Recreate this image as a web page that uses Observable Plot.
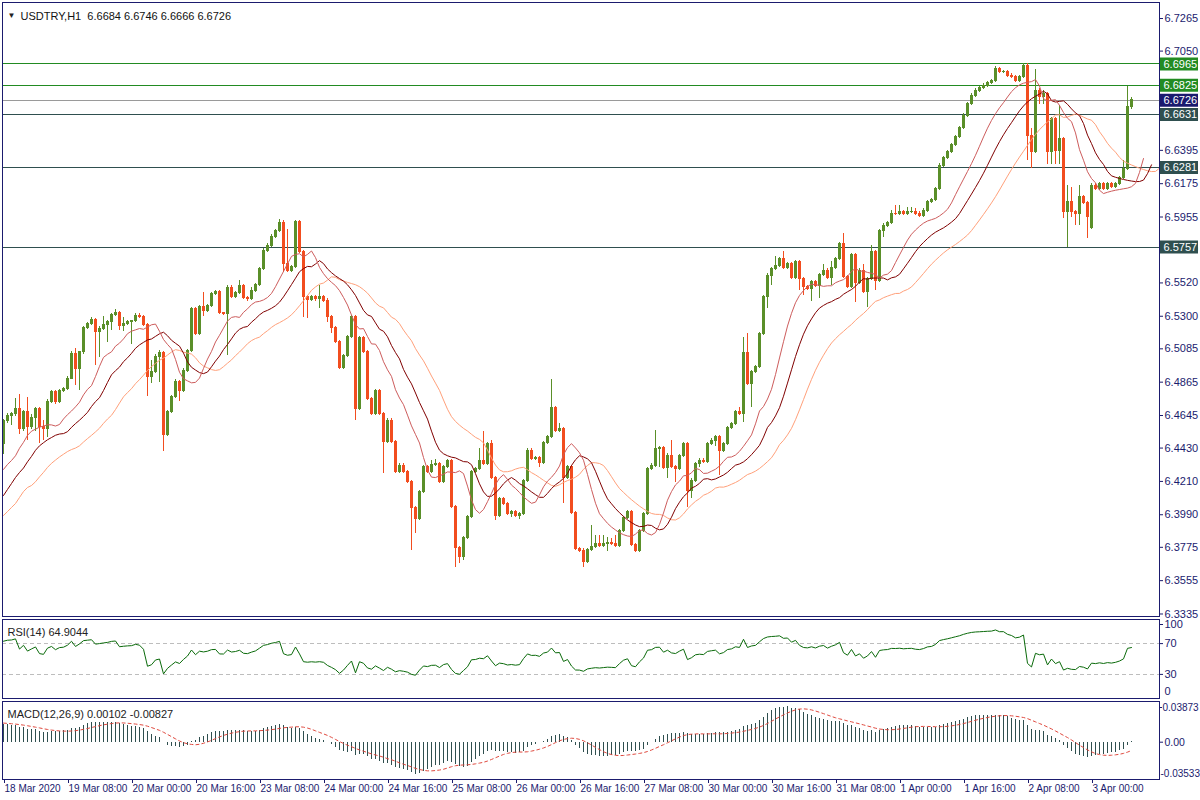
<!DOCTYPE html>
<html><head><meta charset="utf-8">
<script src="https://cdn.jsdelivr.net/npm/d3@7"></script>
<script src="https://cdn.jsdelivr.net/npm/@observablehq/plot@0.6"></script>
<style>
body{margin:0;background:#fff;}
#chart svg{display:block;}
</style>
</head><body><div id="chart"></div>
<script>
// ---------------- DATA (USDTRY, H1) ----------------
const symbolTitle = "USDTRY,H1\u00a0\u00a06.6684 6.6746 6.6666 6.6726";
const rsiTitle = "RSI(14) 64.9044";
const macdTitle = "MACD(12,26,9) 0.00102 -0.00827";

const firstOpen = 6.4458;
const gapOpens = {272: 6.5881};
const closes = [
6.4607,6.4643,6.4652,6.4691,6.4555,6.4665,6.4568,6.4630,6.4691,6.4568,
6.4553,6.4737,6.4797,6.4735,6.4805,6.4819,6.4889,6.5052,6.4955,6.5061,
6.5224,6.5250,6.5274,6.5193,6.5217,6.5244,6.5265,6.5307,6.5323,6.5234,
6.5250,6.5261,6.5267,6.5305,6.5294,6.5241,6.4898,6.4929,6.5034,6.5056,
6.4515,6.4665,6.4766,6.4867,6.4805,6.4942,6.5069,6.5347,6.5180,6.5360,
6.5333,6.5369,6.5448,6.5459,6.5320,6.5318,6.5488,6.5430,6.5452,6.5503,
6.5422,6.5413,6.5465,6.5508,6.5609,6.5729,6.5765,6.5826,6.5861,6.5914,
6.5642,6.5600,6.5622,6.5921,6.5723,6.5430,6.5409,6.5424,6.5411,6.5424,
6.5404,6.5294,6.5221,6.5129,6.4957,6.5036,6.5162,6.5294,6.4689,6.5155,
6.5063,6.4751,6.4658,6.4807,6.4652,6.4469,6.4612,6.4473,6.4269,6.4315,
6.4271,6.4205,6.4033,6.3959,6.4143,6.4308,6.4271,6.4320,6.4324,6.4205,
6.4308,6.4343,6.4040,6.3769,6.3710,6.3835,6.3972,6.4275,6.4289,6.4348,
6.4326,6.4458,6.4231,6.3980,6.4091,6.4062,6.3994,6.4011,6.3980,6.3998,
6.4211,6.4414,6.4359,6.4366,6.4330,6.4462,6.4502,6.4693,6.4546,6.4559,
6.4234,6.4308,6.4000,6.3761,6.3754,6.3681,6.3759,6.3780,6.3798,6.3782,
6.3794,6.3805,6.3798,6.3787,6.3881,6.3967,6.4005,6.3792,6.3754,6.3881,
6.3992,6.4289,6.4315,6.4421,6.4429,6.4300,6.4381,6.4308,6.4291,6.4379,
6.4454,6.4150,6.4216,6.4326,6.4348,6.4337,6.4454,6.4480,6.4502,6.4414,
6.4454,6.4561,6.4586,6.4665,6.4652,6.5059,6.4854,6.4935,6.4968,6.5180,
6.5426,6.5569,6.5613,6.5635,6.5675,6.5620,6.5642,6.5551,6.5661,6.5545,
6.5492,6.5483,6.5529,6.5503,6.5574,6.5602,6.5551,6.5620,6.5675,6.5778,
6.5558,6.5492,6.5706,6.5518,6.5602,6.5459,6.5543,6.5727,6.5531,6.5861,
6.5899,6.5914,6.5976,6.5972,6.5987,6.5972,6.5985,6.5991,6.5972,6.5965,
6.5998,6.6053,6.6069,6.6137,6.6295,6.6343,6.6383,6.6432,6.6486,6.6541,
6.6625,6.6698,6.6757,6.6790,6.6805,6.6823,6.6841,6.6851,6.6929,6.6911,
6.6915,6.6889,6.6878,6.6856,6.6878,6.6955,6.6493,6.6383,6.6790,6.6746,
6.6770,6.6383,6.6603,6.6394,6.6471,6.5987,6.6057,6.5991,6.5976,6.6086,
6.6049,6.5954,6.6163,6.6141,6.6170,6.6141,6.6170,6.6152,6.6174,6.6211,
6.6273,6.6684,6.6726];
const highs = [
6.4620,6.4660,6.4668,6.4755,6.4784,6.4678,6.4762,6.4650,6.4700,6.4700,
6.4612,6.4750,6.4810,6.4810,6.4815,6.4830,6.4900,6.5070,6.5085,6.5070,
6.5235,6.5262,6.5290,6.5285,6.5230,6.5300,6.5275,6.5318,6.5347,6.5330,
6.5290,6.5270,6.5275,6.5318,6.5320,6.5305,6.5250,6.5008,6.5045,6.5075,
6.5065,6.4675,6.4778,6.4880,6.4878,6.4955,6.5080,6.5360,6.5358,6.5372,
6.5459,6.5380,6.5460,6.5470,6.5468,6.5328,6.5500,6.5500,6.5462,6.5536,
6.5512,6.5430,6.5490,6.5518,6.5620,6.5745,6.5778,6.5838,6.5872,6.5939,
6.5930,6.5871,6.5632,6.5932,6.5930,6.5733,6.5440,6.5435,6.5434,6.5503,
6.5435,6.5414,6.5304,6.5231,6.5139,6.5046,6.5172,6.5304,6.5304,6.5165,
6.5165,6.5073,6.4761,6.4817,6.4817,6.4662,6.4622,6.4622,6.4483,6.4325,
6.4325,6.4281,6.4215,6.4043,6.4153,6.4318,6.4318,6.4345,6.4355,6.4334,
6.4318,6.4353,6.4353,6.4050,6.3779,6.3845,6.3982,6.4285,6.4299,6.4425,
6.4539,6.4468,6.4480,6.4241,6.4101,6.4101,6.4072,6.4021,6.4021,6.4008,
6.4221,6.4424,6.4424,6.4376,6.4376,6.4472,6.4512,6.4883,6.4703,6.4590,
6.4569,6.4318,6.4318,6.4010,6.3771,6.3764,6.3769,6.3919,6.3850,6.3850,
6.3850,6.3840,6.3835,6.3850,6.3891,6.3977,6.4015,6.4015,6.3802,6.3891,
6.4002,6.4299,6.4325,6.4546,6.4439,6.4439,6.4391,6.4480,6.4318,6.4389,
6.4464,6.4464,6.4226,6.4336,6.4358,6.4358,6.4464,6.4490,6.4512,6.4511,
6.4464,6.4571,6.4596,6.4675,6.4700,6.5162,6.5184,6.4945,6.4978,6.5190,
6.5436,6.5579,6.5623,6.5694,6.5685,6.5727,6.5652,6.5652,6.5671,6.5671,
6.5555,6.5502,6.5539,6.5539,6.5584,6.5640,6.5612,6.5660,6.5685,6.5788,
6.5848,6.5568,6.5716,6.5716,6.5612,6.5640,6.5553,6.5767,6.5737,6.5871,
6.5909,6.5924,6.6000,6.6031,6.6031,6.6000,6.6020,6.6020,6.6010,6.5990,
6.6008,6.6063,6.6079,6.6147,6.6305,6.6353,6.6393,6.6442,6.6496,6.6551,
6.6635,6.6708,6.6767,6.6800,6.6815,6.6833,6.6851,6.6861,6.6950,6.6945,
6.6925,6.6925,6.6899,6.6888,6.6888,6.6965,6.6965,6.6541,6.6929,6.6800,
6.6790,6.6780,6.6613,6.6613,6.6690,6.6481,6.6160,6.6150,6.6001,6.6160,
6.6096,6.6059,6.6173,6.6173,6.6180,6.6180,6.6180,6.6180,6.6184,6.6221,
6.6330,6.6816,6.6746];
const lows = [
6.4388,6.4595,6.4580,6.4640,6.4520,6.4540,6.4480,6.4555,6.4540,6.4458,
6.4480,6.4502,6.4725,6.4720,6.4725,6.4795,6.4810,6.4880,6.4843,6.4810,
6.5050,6.5215,6.5240,6.4977,6.5030,6.5205,6.5129,6.5206,6.5298,6.5206,
6.5200,6.5240,6.5114,6.5258,6.5285,6.5230,6.4770,6.4854,6.4920,6.4865,
6.4409,6.4505,6.4655,6.4755,6.4740,6.4795,6.4930,6.5060,6.5170,6.5170,
6.5300,6.5322,6.5360,6.5440,6.5310,6.5308,6.5043,6.5420,6.5420,6.5442,
6.5412,6.5400,6.5405,6.5455,6.5498,6.5600,6.5720,6.5755,6.5815,6.5850,
6.5589,6.5590,6.5590,6.5612,6.5712,6.5292,6.5287,6.5398,6.5400,6.5349,
6.5394,6.5261,6.5184,6.5118,6.4946,6.4946,6.5026,6.5152,6.4612,6.4679,
6.5053,6.4741,6.4648,6.4648,6.4642,6.4264,6.4459,6.4463,6.4259,6.4259,
6.4261,6.4195,6.3754,6.3866,6.3949,6.4133,6.4261,6.4261,6.4310,6.4195,
6.4195,6.4298,6.4030,6.3644,6.3668,6.3690,6.3825,6.3962,6.4265,6.4279,
6.4316,6.4316,6.4221,6.3952,6.3970,6.4052,6.3984,6.3970,6.3970,6.3960,
6.3988,6.4201,6.4349,6.4349,6.4300,6.4320,6.4452,6.4492,6.4536,6.4536,
6.4066,6.4224,6.3990,6.3751,6.3744,6.3644,6.3671,6.3749,6.3770,6.3772,
6.3772,6.3750,6.3788,6.3777,6.3777,6.3871,6.3957,6.3782,6.3744,6.3744,
6.3871,6.3982,6.4279,6.4305,6.4300,6.4290,6.4230,6.4298,6.4200,6.4281,
6.4369,6.4040,6.4100,6.4206,6.4300,6.4327,6.4327,6.4444,6.4440,6.4249,
6.4404,6.4444,6.4551,6.4576,6.4642,6.4601,6.4844,6.4700,6.4925,6.4958,
6.5170,6.5350,6.5500,6.5603,6.5625,6.5610,6.5610,6.5541,6.5541,6.5470,
6.5437,6.5473,6.5400,6.5493,6.5420,6.5564,6.5541,6.5500,6.5610,6.5665,
6.5548,6.5482,6.5482,6.5393,6.5508,6.5449,6.5360,6.5533,6.5470,6.5521,
6.5820,6.5889,6.5904,6.5962,6.5962,6.5962,6.5962,6.5975,6.5962,6.5955,
6.5955,6.5988,6.6043,6.6059,6.6127,6.6285,6.6333,6.6373,6.6422,6.6476,
6.6531,6.6615,6.6688,6.6747,6.6780,6.6795,6.6813,6.6831,6.6841,6.6901,
6.6901,6.6879,6.6868,6.6846,6.6846,6.6868,6.6328,6.6273,6.6373,6.6700,
6.6700,6.6300,6.6300,6.6300,6.6300,6.5943,6.5756,6.5950,6.5900,6.5900,
6.6039,6.5813,6.5871,6.6131,6.6131,6.6131,6.6131,6.6142,6.6142,6.6164,
6.6201,6.6263,6.6666];

// time axis labels (one every 16 hourly bars)
const xLabels = ["18 Mar 2020","19 Mar 08:00","20 Mar 00:00","20 Mar 16:00","23 Mar 08:00",
  "24 Mar 00:00","24 Mar 16:00","25 Mar 08:00","26 Mar 00:00","26 Mar 16:00","27 Mar 08:00",
  "30 Mar 00:00","30 Mar 16:00","31 Mar 08:00","1 Apr 00:00","1 Apr 16:00","2 Apr 08:00","3 Apr 00:00"];
const priceTicks = [6.7265,6.7050,6.6825,6.6610,6.6395,6.6175,6.5955,6.5740,6.5520,6.5300,
  6.5085,6.4865,6.4645,6.4430,6.4210,6.3990,6.3775,6.3555,6.3335];
// horizontal levels drawn on the chart
const levelPrices = [6.6965, 6.6825, 6.6726, 6.6631, 6.6281, 6.5757];
const levelKinds  = ["green","green","bid","slate","slate","slate"];

// Alligator lines: values already on screen at the left edge (earlier history)
const lipsPre  = [6.4289, 6.4322, 6.4348];
const teethPre = [6.4117, 6.4157, 6.4196, 6.4236, 6.4269];
const jawPre   = [6.3985, 6.4011, 6.4038, 6.4064, 6.4104, 6.4143, 6.4170, 6.4183];
// oscillator state before the first visible bar (estimated)
const rsiSeedGain = 0.0032, rsiSeedLoss = 0.0016;
const ema12Seed = 6.4530, ema26Seed = 6.4345;
const macdPre = [0.0200,0.0198,0.0196,0.0194,0.0192,0.0190,0.0188,0.0186];
const rsiTicks = [70, 30];
const macdTicks = [0.03873, 0, -0.03533];

// ---------------- BUILD ----------------
const navy = "#1b1b6e";
const bull = "#5a8f29", bear = "#f24d1f";
const kindColor = {green: "#228b22", bid: "#1a1a6e", slate: "#2f4f4f"};
const lineColor = {green: "#228b22", bid: "#9a9a9a", slate: "#2f4f4f"};
const font = "Liberation Sans, Arial, sans-serif";
const crisp = "crispEdges";

const bars = closes.map((c, i) => ({
  i, c, h: highs[i], l: lows[i],
  o: gapOpens[i] !== undefined ? gapOpens[i] : (i === 0 ? firstOpen : closes[i - 1])
}));
bars.forEach(b => b.col = b.c >= b.o ? bull : bear);

function alligator(period, shift, pre) {
  let s = pre[pre.length - 1];
  const out = pre.map((v, j) => ({i: j, v}));
  bars.forEach((b, k) => {
    const m = (b.h + b.l) / 2;
    s = (s * (period - 1) + m) / period;
    out.push({i: k + shift, v: s});
  });
  return out;
}
const lips = alligator(5, 3, lipsPre);
const teeth = alligator(8, 5, teethPre);
const jaw = alligator(13, 8, jawPre);

let ag = rsiSeedGain, al = rsiSeedLoss, prevC = firstOpen;
const rsi = bars.map(b => {
  const d = b.c - prevC; prevC = b.c;
  ag = (ag * 13 + Math.max(d, 0)) / 14;
  al = (al * 13 + Math.max(-d, 0)) / 14;
  return {i: b.i, v: 100 - 100 / (1 + ag / al)};
});

let e12 = ema12Seed, e26 = ema26Seed;
const macdMain = bars.map(b => {
  e12 += (2 / 13) * (b.c - e12);
  e26 += (2 / 27) * (b.c - e26);
  return e12 - e26;
});
const allMacd = macdPre.concat(macdMain);
const macd = bars.map((b, k) => ({i: b.i, m: macdMain[k], s: d3.mean(allMacd.slice(k, k + 9))}));

const levels = levelPrices.map((p, k) => ({p, kind: levelKinds[k]}));

const xDomain = [-0.25, 289];
const common = {width: 1200, marginLeft: 2, marginRight: 41,
  style: {fontFamily: font, fontSize: "11px", color: navy, background: "#fff", overflow: "visible"}};

const mainPlot = Plot.plot({
  ...common, height: 618, marginTop: 2, marginBottom: 2,
  x: {domain: xDomain, axis: null},
  y: {domain: [6.33184, 6.73708], axis: null},
  marks: [
    Plot.ruleY(levels, {y: "p", stroke: d => lineColor[d.kind], strokeWidth: 1, shapeRendering: crisp}),
    Plot.ruleX(bars, {x: "i", y1: "l", y2: "h", stroke: "col", strokeWidth: 1, shapeRendering: crisp}),
    Plot.rect(bars, {x1: d => d.i - 0.25, x2: d => d.i + 0.25, y1: "o", y2: "c", fill: "col", stroke: "col", strokeWidth: 1, shapeRendering: crisp}),
    Plot.line(jaw, {x: "i", y: "v", stroke: "#ffa07a", strokeWidth: 1, clip: true}),
    Plot.line(teeth, {x: "i", y: "v", stroke: "#800000", strokeWidth: 1, clip: true}),
    Plot.line(lips, {x: "i", y: "v", stroke: "#cd5c5c", strokeWidth: 1, clip: true}),
    Plot.axisY(priceTicks, {anchor: "right", tickSize: 3, tickPadding: 2, tickFormat: d => d.toFixed(4), fontSize: 11, label: null}),
    Plot.ruleY(levels, {y: "p", stroke: d => kindColor[d.kind], strokeWidth: 13, insetLeft: 1158, insetRight: -39}),
    Plot.text(levels, {y: "p", text: d => d.p.toFixed(4), frameAnchor: "right", dx: 4, textAnchor: "start", fill: "white", fontSize: 11}),
    Plot.frame({stroke: navy, shapeRendering: crisp}),
    Plot.text(["\u25BC"], {frameAnchor: "top-left", dx: 5, dy: 10, fontSize: 8, fill: "#222", textAnchor: "start"}),
    Plot.text([symbolTitle], {frameAnchor: "top-left", dx: 18, dy: 10, fontSize: 11, fill: "#111", textAnchor: "start"})
  ]
});

const rsiPlot = Plot.plot({
  ...common, height: 82, marginTop: 1, marginBottom: 2,
  x: {domain: xDomain, axis: null},
  y: {domain: [0, 100], axis: null, insetTop: 1, insetBottom: 1},
  marks: [
    Plot.ruleY(rsiTicks, {stroke: "#bdbdbd", strokeDasharray: "4,3", shapeRendering: crisp}),
    Plot.line(rsi, {x: "i", y: "v", stroke: "#0a6a0a", strokeWidth: 1}),
    Plot.axisY(rsiTicks, {anchor: "right", tickSize: 3, tickPadding: 2, fontSize: 11, label: null}),
    Plot.axisY([100], {anchor: "right", tickSize: 3, tickPadding: 2, dy: 4, fontSize: 11, label: null}),
    Plot.axisY([0], {anchor: "right", tickSize: 0, tickPadding: 5, dy: -6, fontSize: 11, label: null}),
    Plot.frame({stroke: navy, shapeRendering: crisp}),
    Plot.text([rsiTitle], {frameAnchor: "top-left", dx: 5, dy: 9, fontSize: 11, fill: "#222", textAnchor: "start"})
  ]
});

const macdPlot = Plot.plot({
  ...common, height: 100, marginTop: 1, marginBottom: 21,
  x: {domain: xDomain, axis: null},
  y: {domain: [-0.03533, 0.03873], axis: null, insetTop: 2, insetBottom: 2},
  marks: [
    Plot.ruleX(macd, {x: "i", y1: 0, y2: "m", stroke: "#2f4f4f", strokeWidth: 1, clip: true, shapeRendering: crisp}),
    Plot.line(macd, {x: "i", y: "s", stroke: "#e04a3f", strokeWidth: 1, strokeDasharray: "3,3", clip: true}),
    Plot.axisY([0], {anchor: "right", tickSize: 3, tickPadding: 2, tickFormat: d => d.toFixed(2), fontSize: 10.5, label: null}),
    Plot.axisY([macdTicks[0]], {anchor: "right", tickSize: 2, tickPadding: 1, dy: 4, tickFormat: d => d.toFixed(5), fontSize: 10, label: null}),
    Plot.axisY([macdTicks[2]], {anchor: "right", tickSize: 0, tickPadding: 1, dy: -4, tickFormat: d => d.toFixed(5), fontSize: 10, label: null}),
    Plot.axisX(xLabels.map((_, k) => k * 16), {anchor: "bottom", tickSize: 4, tickPadding: 1, textAnchor: "start", dx: 1,
      tickFormat: d => xLabels[d / 16], fontSize: 10, label: null}),
    Plot.frame({stroke: navy, shapeRendering: crisp}),
    Plot.text([macdTitle], {frameAnchor: "top-left", dx: 5, dy: 9, fontSize: 11, fill: "#222", textAnchor: "start"})
  ]
});

const root = document.getElementById("chart");
root.append(mainPlot, rsiPlot, macdPlot);
</script>
</body></html>
